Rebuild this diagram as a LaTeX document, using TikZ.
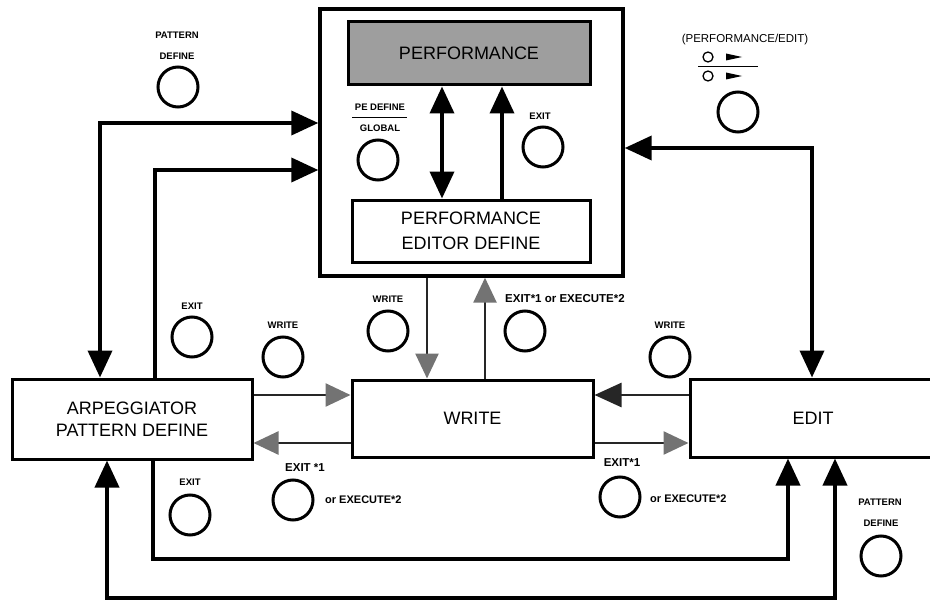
\documentclass[tikz,border=0pt]{standalone}
\usepackage{fontspec}
\setmainfont{Liberation Sans}
\usetikzlibrary{arrows.meta}
\begin{document}
\begin{tikzpicture}[x=1pt,y=-1pt,
  >={Triangle[length=27pt,width=24pt]},
  box/.style={draw, line width=3pt, rectangle, inner sep=0pt, align=center,
    font=\fontsize{18}{22}\selectfont},
  keybtn/.style={circle, draw, line width=3pt, minimum size=40pt, inner sep=0pt},
  lbl/.style={font=\bfseries\fontsize{9.5}{11}\selectfont, inner sep=0pt},
  lblbig/.style={font=\bfseries\fontsize{11.5}{13}\selectfont, inner sep=0pt},
  conn/.style={line width=3.8pt},
  lightconn/.style={line width=2.6pt, draw=black!85},
  greytip/.style={>={Triangle[length=25pt,width=23pt,color=black!55]}}
]
\useasboundingbox (0,0) rectangle (930,602);

% ---- performance block ----
\node[box, line width=3.4pt, minimum width=303pt, minimum height=267pt] (perf) at (471.5,142.5) {};
\node[box, fill=black!38, minimum width=242pt, minimum height=63pt] (shade) at (469,53.5) {PERFORMANCE};
\node[box, minimum width=238pt, minimum height=62pt, font=\fontsize{18}{25}\selectfont] (ped) at (471,231) {PERFORMANCE\\EDITOR DEFINE};

% ---- lower row ----
\node[box, minimum width=240pt, minimum height=80pt] (arp) at (132,419) {ARPEGGIATOR\\PATTERN DEFINE};
\node[box, minimum width=241pt, minimum height=77pt] (wr) at (472.5,418.5) {WRITE};
\node[box, minimum width=246pt, minimum height=78pt] (edit) at (813,418) {EDIT};

% ---- helper coordinates ----
\coordinate (x100) at (100,0);
\coordinate (x155) at (155,0);
\coordinate (x442) at (442,0);
\coordinate (x502) at (502,0);
\coordinate (x812) at (812,0);
\coordinate (x427) at (427,0);
\coordinate (x485) at (485,0);
\coordinate (x153) at (153,0);
\coordinate (x107) at (107,0);
\coordinate (x788) at (788,0);
\coordinate (x835) at (835,0);
\coordinate (y123) at (0,123);
\coordinate (y170) at (0,170);
\coordinate (y148) at (0,148);
\coordinate (y395) at (0,395);
\coordinate (y443) at (0,443);
\coordinate (lowA) at (153,559);
\coordinate (lowB) at (107,598);

% ---- connectors around the performance block ----
\draw[conn,<->] (arp.north -| x100) |- (perf.west |- y123);
\draw[conn,->] (arp.north -| x155) |- (perf.west |- y170);
\draw[conn,<->] (perf.east |- y148) -| (edit.north -| x812);
\draw[conn,<->] (shade.south -| x442) -- (ped.north -| x442);
\draw[conn,->] (ped.north -| x502) -- (shade.south -| x502);

% ---- connectors to and from WRITE ----
\draw[lightconn,greytip,->] (perf.south -| x427) -- (wr.north -| x427);
\draw[lightconn,greytip,->] (wr.north -| x485) -- (perf.south -| x485);
\draw[lightconn,greytip,->] (arp.east |- y395) -- (wr.west |- y395);
\draw[lightconn,greytip,->] (wr.west |- y443) -- (arp.east |- y443);
\draw[lightconn,->] (edit.west |- y395) -- (wr.east |- y395);
\draw[lightconn,greytip,->] (wr.east |- y443) -- (edit.west |- y443);

% ---- lower loops ----
\draw[conn,->] (arp.south -| x153) -- (lowA) -| (edit.south -| x788);
\draw[conn,<->] (arp.south -| x107) -- (lowB) -| (edit.south -| x835);

% ---- keys: top left ----
\node[lbl] (pdA1) at (177,35) {PATTERN};
\node[lbl] (pdA2) at (177,56) {DEFINE};
\node[keybtn] (kpdA) at (178,87) {};

% ---- keys inside the performance block ----
\node[lbl] (pedef) at (380,107) {PE DEFINE};
\draw[line width=1pt] (352,117.5) -- (407,117.5);
\node[lbl] (glob) at (380,128) {GLOBAL};
\node[keybtn] (kpe) at (378,160) {};
\node[lbl] (exA) at (540,116) {EXIT};
\node[keybtn] (kexA) at (543,147) {};

% ---- performance/edit key ----
\node[font=\fontsize{11.5}{13}\selectfont, inner sep=0pt] (pelbl) at (745,40) {(PERFORMANCE/EDIT)};
\node[circle, draw, line width=1.3pt, minimum size=10pt, inner sep=0pt] (sc1) at (708,57) {};
\node[circle, draw, line width=1.3pt, minimum size=10pt, inner sep=0pt] (sc2) at (708,76) {};
\fill (726,53.5) -- (742,57) -- (726,60.5) -- cycle;
\fill (726,72.5) -- (742,76) -- (726,79.5) -- cycle;
\draw[line width=1pt] (698,67) -- (758,67);
\node[keybtn] (kpe2) at (738,112) {};

% ---- keys between the upper and lower rows ----
\node[lbl] (exB) at (192,306) {EXIT};
\node[keybtn] (kexB) at (192,337) {};
\node[lbl] (wrA) at (283,325) {WRITE};
\node[keybtn] (kwrA) at (283,357) {};
\node[lbl] (wrB) at (388,299) {WRITE};
\node[keybtn] (kwrB) at (388,331) {};
\node[lblbig, anchor=west] (exexA) at (505,299) {EXIT*1 or EXECUTE*2};
\node[keybtn] (kexexA) at (525,331) {};
\node[lbl] (wrC) at (670,325) {WRITE};
\node[keybtn] (kwrC) at (670,357) {};

% ---- keys below the lower row ----
\node[lbl] (exC) at (190,482) {EXIT};
\node[keybtn] (kexC) at (190,515) {};
\node[lblbig] (exD) at (305,468) {EXIT *1};
\node[keybtn] (kexD) at (293,500) {};
\node[lblbig, font=\bfseries\fontsize{11}{13}\selectfont, anchor=west] (orD) at (325,500) {or EXECUTE*2};
\node[lblbig] (exE) at (622,463) {EXIT*1};
\node[keybtn] (kexE) at (620,497) {};
\node[lblbig, font=\bfseries\fontsize{11}{13}\selectfont, anchor=west] (orE) at (650,499) {or EXECUTE*2};
\node[lbl] (pdB1) at (880,502) {PATTERN};
\node[lbl] (pdB2) at (881,523) {DEFINE};
\node[keybtn] (kpdB) at (881,556) {};
\end{tikzpicture}
\end{document}
